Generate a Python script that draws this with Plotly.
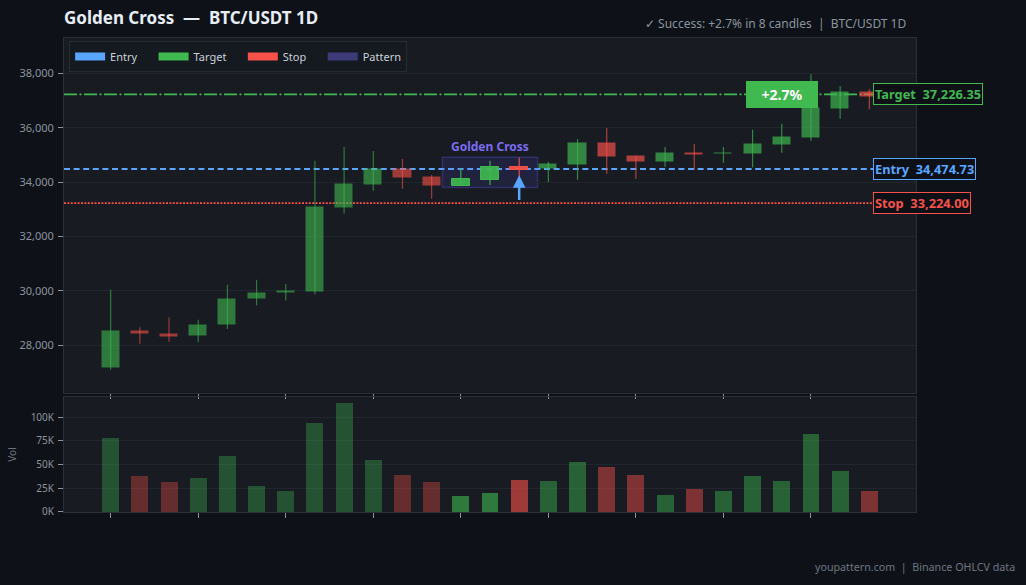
import plotly.graph_objects as go

# ---------------- data ----------------
idx = list(range(27))
opens  = [27141, 28520, 28410, 28320, 28720, 29680, 29900, 29970, 33060, 33900,
          34480, 34190, 33870, 34090, 34550, 34490, 34640, 35440, 34960, 34720,
          35060, 35030, 35045, 35380, 35630, 36700, 37310]
highs  = [30030, 28650, 29010, 28930, 30220, 30400, 30250, 34780, 35290, 35140,
          34850, 34260, 34510, 34780, 34900, 34740, 35580, 35990, 34970, 35290,
          35400, 35290, 35920, 36140, 37970, 37530, 37410]
lows   = [27090, 28050, 28120, 28100, 28590, 29460, 29640, 29860, 32840, 33680,
          33750, 33380, 33860, 33890, 34150, 34000, 34080, 34300, 34120, 34560,
          34450, 34710, 34530, 35080, 35520, 36330, 36680]
closes = [28527, 28400, 28310, 28750, 29700, 29920, 30000, 33080, 33930, 34480,
          34160, 33870, 34110, 34550, 34460, 34660, 35440, 34920, 34720, 35070,
          35010, 35070, 35400, 35660, 36720, 37310, 37140]
volumes = [78200, 38200, 31900, 36100, 59300, 27700, 22400, 94000, 115000, 55000,
           39300, 31900, 17200, 20300, 34000, 33000, 53000, 47700, 39300, 18200,
           24500, 22400, 38200, 33000, 82400, 43500, 22400]

pattern_idx = [12, 13, 14]
entry = 34474.73
target = 37226.35
stop = 33224.00
gain_text = "+2.7%"
title_text = "Golden Cross  \u2014  BTC/USDT 1D"
subtitle_text = "\u2713 Success: +2.7% in 8 candles  |  BTC/USDT 1D"
footer_text = "youpattern.com  |  Binance OHLCV data"
pattern_label = "Golden Cross"
legend_names = ["Entry", "Target", "Stop", "Pattern"]
price_ticks = [28000, 30000, 32000, 34000, 36000, 38000]
vol_ticks = [0, 25000, 50000, 75000, 100000]
vol_tick_text = ["0K", "25K", "50K", "75K", "100K"]
x_ticks = list(range(0, 27, 3))

# ---------------- styles ----------------
GREEN = (63, 185, 80)
RED = (248, 81, 73)
BLUE = "#58a6ff"
PURPLE = "#3d3a7a"
PAPER = "#0e1118"
PLOT = "#181b22"
GRID = "#21252d"
TXT = "#8b949e"
FONT = "Noto Sans"


def rgba(c, a):
    return f"rgba({c[0]},{c[1]},{c[2]},{a})"


def phase(i):
    if i in pattern_idx:
        return "pat"
    return "pre" if i < pattern_idx[0] else "post"


candle_alpha = {"pre": 0.6, "pat": 0.92, "post": 0.68}
vol_alpha = {"pre": 0.35, "pat": 0.6, "post": 0.45}

fig = go.Figure()

# wicks (one trace per colour/phase group)
groups = {}
for i in idx:
    up = closes[i] >= opens[i]
    key = ("g" if up else "r", phase(i))
    groups.setdefault(key, []).append(i)
for (col, ph), members in groups.items():
    xs, ys = [], []
    for i in members:
        xs += [i, i, None]
        ys += [lows[i], highs[i], None]
    base = GREEN if col == "g" else RED
    fig.add_trace(go.Scatter(x=xs, y=ys, mode="lines", showlegend=False,
                             line=dict(color=rgba(base, candle_alpha[ph]), width=1.2),
                             hoverinfo="skip", xaxis="x", yaxis="y"))

# bodies
body_base, body_h, body_col, body_line = [], [], [], []
for i in idx:
    up = closes[i] >= opens[i]
    base = GREEN if up else RED
    lo_, hi_ = min(opens[i], closes[i]), max(opens[i], closes[i])
    body_base.append(lo_)
    body_h.append(max(hi_ - lo_, 45))
    body_col.append(rgba(base, candle_alpha[phase(i)]))
    body_line.append(rgba(base, 1.0) if phase(i) == "pat" else "rgba(0,0,0,0)")
fig.add_trace(go.Bar(x=idx, y=body_h, base=body_base, width=0.62,
                     marker=dict(color=body_col, line=dict(color=body_line, width=1)),
                     showlegend=False, hoverinfo="skip", xaxis="x", yaxis="y"))

# volume
vcol = []
for i in idx:
    base = GREEN if closes[i] >= opens[i] else RED
    vcol.append(rgba(base, vol_alpha[phase(i)]))
fig.add_trace(go.Bar(x=idx, y=volumes, width=0.58, marker=dict(color=vcol, line=dict(width=0)),
                     showlegend=False, hoverinfo="skip", xaxis="x2", yaxis="y2"))

# legend dummies
pad = "\u00a0" * 4
for k, (name, c) in enumerate(zip(legend_names, [BLUE, rgba(GREEN, 1), rgba(RED, 1), PURPLE])):
    label = name + (pad if k < len(legend_names) - 1 else "")
    fig.add_trace(go.Scatter(x=[None], y=[None], mode="lines", name=label,
                             line=dict(color=c, width=8), xaxis="x", yaxis="y"))

# level lines
shapes = [
    dict(type="line", xref="paper", x0=0, x1=1, yref="y", y0=target, y1=target,
         line=dict(color=rgba(GREEN, 1), width=1.8, dash="13px,2.5px,2px,2.5px"), layer="below"),
    dict(type="line", xref="paper", x0=0, x1=1, yref="y", y0=entry, y1=entry,
         line=dict(color=BLUE, width=2, dash="6px,3.6px"), layer="below"),
    dict(type="line", xref="paper", x0=0, x1=1, yref="y", y0=stop, y1=stop,
         line=dict(color=rgba(RED, 1), width=1.8, dash="2px,1.4px"), layer="below"),
]
p_hi = max(highs[i] for i in pattern_idx)
p_lo = min(lows[i] for i in pattern_idx)
shapes.append(dict(type="rect", xref="x", yref="y",
                   x0=pattern_idx[0] - 0.63, x1=pattern_idx[-1] + 0.63,
                   y0=p_lo - 60, y1=p_hi + 10,
                   fillcolor="rgba(99,91,255,0.13)", line=dict(color="rgba(99,91,255,0.28)", width=1.5),
                   layer="below"))

annotations = [
    dict(text=f"<b>{title_text}</b>", xref="paper", yref="paper", x=0, y=1.044,
         xanchor="left", yanchor="middle", showarrow=False, xshift=-2,
         font=dict(family=FONT, size=17, color="#e6edf3")),
    dict(text=subtitle_text, xref="paper", yref="paper", x=0.9894, y=1.0316,
         xanchor="right", yanchor="middle", showarrow=False, xshift=1,
         font=dict(family=FONT, size=12, color=TXT)),
    dict(text=footer_text, xref="paper", yref="paper", x=1.1162, y=-0.116,
         xanchor="right", yanchor="middle", showarrow=False, xshift=2,
         font=dict(family=FONT, size=10.7, color="#6e7681")),
    dict(text=f"<b>{pattern_label}</b>", xref="x", yref="y",
         x=(pattern_idx[0] + pattern_idx[-1]) / 2, y=p_hi + 10, yanchor="bottom",
         yshift=0, showarrow=False, font=dict(family=FONT, size=12, color="#7b6cf0")),
    dict(text="", x=pattern_idx[-1], y=lows[pattern_idx[-1]] + 100, xref="x", yref="y",
         ax=pattern_idx[-1], ay=stop + 60, axref="x", ayref="y", showarrow=True,
         arrowhead=2, arrowsize=1, arrowwidth=2.5, arrowcolor=BLUE),
    dict(text=f"<b>{gain_text}</b>", x=23, y=target, xref="x", yref="y",
         showarrow=False, bgcolor=rgba(GREEN, 1), bordercolor=rgba(GREEN, 1),
         borderwidth=1, borderpad=4, width=62, height=17,
         font=dict(family=FONT, size=14, color="#ffffff")),
]
for lab, val, c in [("Target", target, rgba(GREEN, 1)), ("Entry", entry, BLUE), ("Stop", stop, rgba(RED, 1))]:
    annotations.append(dict(text=f"<b>{lab}  {val:,.2f}</b>", xref="paper", yref="y",
                            x=0.9495, y=val, xanchor="left", yanchor="middle", showarrow=False,
                            bgcolor="#0d1117", bordercolor=c, borderwidth=1, borderpad=1,
                            font=dict(family=FONT, size=12.8, color=c)))

axis_common = dict(showgrid=True, gridcolor=GRID, gridwidth=1, zeroline=False,
                   showline=True, linecolor="#2a2f38", linewidth=1, mirror=True,
                   ticks="outside", ticklen=5, tickcolor=TXT,
                   tickfont=dict(family=FONT, size=11, color=TXT))

fig.update_layout(
    width=1026, height=585,
    margin=dict(l=64, r=110, t=38, b=73),
    paper_bgcolor=PAPER, plot_bgcolor=PLOT,
    font=dict(family=FONT, color=TXT),
    barmode="overlay", bargap=0,
    hovermode=False,
    showlegend=True,
    legend=dict(orientation="h", x=0.006, y=0.9937, xanchor="left", yanchor="top",
                bgcolor="#151920", bordercolor="#262c36", borderwidth=1,
                font=dict(family=FONT, size=11, color="#c9d1d9"),
                itemwidth=30, tracegroupgap=0),
    xaxis=dict(axis_common, domain=[0, 1], range=[-1.6, 27.6], anchor="y",
               tickvals=x_ticks, ticktext=["" for _ in x_ticks], showgrid=False),
    yaxis=dict(axis_common, domain=[0.2511, 1], range=[26235, 39300], anchor="x",
               tickvals=price_ticks, tickformat=",.0f", ticklabelstandoff=2),
    xaxis2=dict(axis_common, domain=[0, 1], range=[-1.6, 27.6], anchor="y2",
                tickvals=x_ticks, ticktext=["" for _ in x_ticks], showgrid=False, matches="x"),
    yaxis2=dict(axis_common, domain=[0, 0.2426], range=[0, 121400], anchor="x2",
                tickvals=vol_ticks, ticktext=vol_tick_text, ticklabelstandoff=2,
                tickfont=dict(family=FONT, size=10, color=TXT),
                title=dict(text="Vol", font=dict(family=FONT, size=10, color="#6e7681"), standoff=12)),
    shapes=shapes,
    annotations=annotations,
)

fig.write_html("out.html", config={"displayModeBar": False},
               post_script="document.body.style.margin='0';")
